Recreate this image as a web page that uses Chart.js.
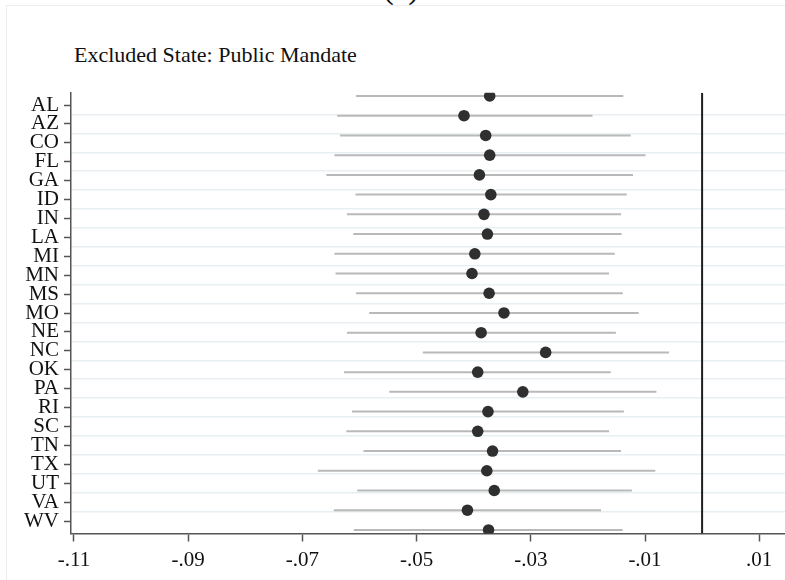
<!DOCTYPE html>
<html>
<head>
<meta charset="utf-8">
<script src="https://cdn.jsdelivr.net/npm/chart.js@4.4.0/dist/chart.umd.min.js"></script>
<style>
  html, body { margin: 0; padding: 0; background: #fff; overflow: hidden; }
  #wrap { position: relative; width: 785px; height: 580px; overflow: hidden; background: #fff; }
  #frame { position: absolute; left: 6px; top: 5px; width: 900px; height: 700px;
           border-left: 1px solid #ececec; border-top: 1px solid #ececec; }
  #panel { position: absolute; left: 0; top: -29px; width: 802px; text-align: center;
           font: 33px 'Liberation Serif', 'Times New Roman', serif; line-height: 33px; color: #111; }
  #sub { position: absolute; left: 74px; top: 44px; font: 22px 'Liberation Serif', 'Times New Roman', serif;
         line-height: 22px; color: #111; white-space: nowrap; }
  canvas { position: absolute; left: 0; top: 0; }
</style>
</head>
<body>
<div id="wrap">
  <div id="frame"></div>
  <div id="panel">(a)</div>
  <div id="sub">Excluded State: Public Mandate</div>
  <canvas id="coefChart" width="785" height="580"></canvas>
</div>
<script>
// coefficient plot: one row per excluded state

const STATES = ['AL', 'AZ', 'CO', 'FL', 'GA', 'ID', 'IN', 'LA', 'MI', 'MN', 'MS', 'MO',
                'NE', 'NC', 'OK', 'PA', 'RI', 'SC', 'TN', 'TX', 'UT', 'VA', 'WV'];

const ESTIMATE = [-0.0372, -0.0417, -0.0379, -0.0372, -0.0390, -0.0370, -0.0382, -0.0376,
                  -0.0398, -0.0403, -0.0373, -0.0347, -0.0387, -0.0274, -0.0393, -0.0314,
                  -0.0375, -0.0393, -0.0367, -0.0377, -0.0364, -0.0411, -0.0374];

const CI_LOW = [-0.0606, -0.0639, -0.0634, -0.0644, -0.0658, -0.0607, -0.0622, -0.0611,
                -0.0644, -0.0642, -0.0606, -0.0583, -0.0622, -0.0489, -0.0627, -0.0548,
                -0.0613, -0.0623, -0.0593, -0.0673, -0.0604, -0.0645, -0.0610];

const CI_HIGH = [-0.0138, -0.0192, -0.0125, -0.0099, -0.0121, -0.0132, -0.0142, -0.0141,
                 -0.0153, -0.0163, -0.0139, -0.0111, -0.0151, -0.0058, -0.0160, -0.0080,
                 -0.0137, -0.0163, -0.0142, -0.0082, -0.0123, -0.0177, -0.0139];

const X_TICKS = [-0.11, -0.09, -0.07, -0.05, -0.03, -0.01, 0.01];
const REF_LINE = 0;

// ranges (rows on 'y', labels on 'yLab' are spaced a bit tighter, like the original)
const Y_MIN = 0.833, Y_MAX = 23.18;
const LAB_MIN = 0.3495, LAB_MAX = 23.661;
const X_MIN = -0.110525, X_MAX = 0.014518;

const FONT = { family: "'Liberation Serif', 'Times New Roman', serif", size: 21 };
const AXIS_COLOR = '#555555';

function fmtTick(v) {
  return v.toFixed(2).replace(/^(-?)0\./, '$1.');
}

const ciSets = STATES.map((s, i) => ({
  type: 'line',
  label: s + ' CI',
  data: [{ x: CI_LOW[i], y: i + 1 }, { x: CI_HIGH[i], y: i + 1 }],
  borderColor: '#b9b9b9',
  borderWidth: 2,
  pointRadius: 0,
  order: 2,
}));

const dotSet = {
  type: 'scatter',
  label: 'Estimate',
  data: ESTIMATE.map((v, i) => ({ x: v, y: i + 1 })),
  backgroundColor: '#2f2f2f',
  borderWidth: 0,
  pointRadius: 5.8,
  order: 0,
};

const zeroSet = {
  type: 'line',
  label: 'zero',
  data: [{ x: REF_LINE, y: Y_MIN }, { x: REF_LINE, y: Y_MAX }],
  borderColor: '#1e1e1e',
  borderWidth: 2,
  pointRadius: 0,
  order: 1,
};

new Chart(document.getElementById('coefChart'), {
  type: 'scatter',
  data: { datasets: [dotSet, zeroSet, ...ciSets] },
  options: {
    responsive: false,
    animation: false,
    layout: { autoPadding: false, padding: { top: 92.7, right: 0, left: 0, bottom: 0 } },
    scales: {
      x: {
        type: 'linear',
        min: X_MIN,
        max: X_MAX,
        afterBuildTicks: s => { s.ticks = X_TICKS.map(v => ({ value: v })); },
        afterFit: s => { s.height = 46.5; s.paddingLeft = 0; s.paddingRight = 0; },
        grid: { drawOnChartArea: false, drawTicks: true, tickLength: 8, tickColor: AXIS_COLOR, tickWidth: 1.5 },
        border: { display: true, color: AXIS_COLOR, width: 1.5 },
        ticks: { autoSkip: false, maxRotation: 0, padding: 6, color: '#111', font: FONT, callback: v => fmtTick(v) },
      },
      y: {
        type: 'linear',
        display: false,
        reverse: true,
        min: Y_MIN,
        max: Y_MAX,
      },
      yLab: {
        type: 'linear',
        position: 'left',
        reverse: true,
        min: LAB_MIN,
        max: LAB_MAX,
        afterBuildTicks: s => { s.ticks = STATES.map((st, i) => ({ value: i + 1 })); },
        afterFit: s => { s.width = 71; s.paddingTop = 0; s.paddingBottom = 0; },
        grid: { drawOnChartArea: false, drawTicks: true, tickLength: 7, tickColor: AXIS_COLOR, tickWidth: 1.5 },
        border: { display: true, color: AXIS_COLOR, width: 1.5 },
        ticks: { autoSkip: false, padding: 5, color: '#111', font: FONT,
                 callback: v => STATES[Math.round(v) - 1] },
      },
      yGrid: {
        type: 'linear',
        position: 'left',
        reverse: true,
        min: LAB_MIN,
        max: LAB_MAX,
        afterBuildTicks: s => { s.ticks = STATES.slice(1).map((st, i) => ({ value: i + 1.5 })); },
        grid: { drawOnChartArea: true, drawTicks: false, color: '#e7eff2', lineWidth: 1.5 },
        border: { display: false },
        ticks: { display: false },
      },
    },
    plugins: {
      legend: { display: false },
      tooltip: { enabled: false },
    },
  },
});
</script>
</body>
</html>
